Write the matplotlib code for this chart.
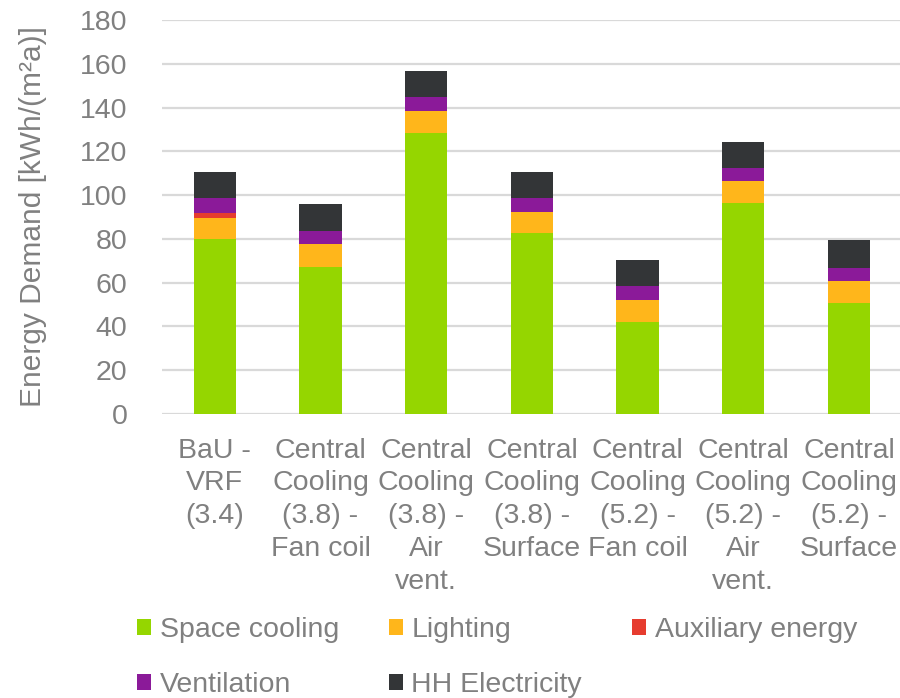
import numpy as np
import matplotlib.pyplot as plt

plt.rcParams['font.family'] = ['Liberation Sans', 'DejaVu Sans']

# yearly energy demand per variant, kWh/(m2a)
variants = ['BaU -\nVRF\n(3.4)',
            'Central\nCooling\n(3.8) -\nFan coil',
            'Central\nCooling\n(3.8) -\nAir\nvent.',
            'Central\nCooling\n(3.8) -\nSurface',
            'Central\nCooling\n(5.2) -\nFan coil',
            'Central\nCooling\n(5.2) -\nAir\nvent.',
            'Central\nCooling\n(5.2) -\nSurface']
space_cooling = [80.0, 67.0, 128.3, 82.5, 42.0, 96.5, 50.6]
lighting = [9.5, 10.5, 10.0, 10.0, 10.0, 10.0, 10.0]
auxiliary = [2.5, 0.0, 0.0, 0.0, 0.0, 0.0, 0.0]
ventilation = [6.5, 6.0, 6.5, 6.0, 6.5, 6.0, 6.2]
hh_electricity = [12.0, 12.3, 12.0, 12.0, 12.0, 12.0, 12.5]

series = [('Space cooling', space_cooling, '#95d600'),
          ('Lighting', lighting, '#ffb61b'),
          ('Auxiliary energy', auxiliary, '#e63c2f'),
          ('Ventilation', ventilation, '#8b1a99'),
          ('HH Electricity', hh_electricity, '#333537')]

grey = '#808080'

fig = plt.figure(figsize=(9, 6.98), dpi=100)
ax = fig.add_axes([0.18, 0.407, 0.822, 0.564])

x = np.arange(len(variants))
bottom = np.zeros(len(variants))
handles = {}
for name, vals, col in series:
    vals = np.array(vals)
    bars = ax.bar(x, vals, 0.4, bottom=bottom, color=col, zorder=3)
    handles[name] = bars
    bottom += vals

ax.set_ylim(0, 180)
ax.set_xlim(-0.5, len(variants) - 0.5)
ax.set_yticks(np.arange(0, 181, 20))
ax.yaxis.grid(True, color='#d9d9d9', linewidth=1.6, zorder=0)
ax.set_axisbelow(True)
for s in ax.spines.values():
    s.set_visible(False)
ax.tick_params(length=0, labelsize=20.5, labelcolor=grey)
ax.tick_params(axis='y', pad=25)
ax.tick_params(axis='x', pad=17)
ax.set_xticks(x)
ax.set_xticklabels(variants, linespacing=1.34, va='top')

fig.text(0.037, 0.69, 'Energy Demand [kWh/(m²a)]', rotation=90,
         ha='center', va='center', fontsize=21.5, color=grey)

# Excel-style legend: fill rows left to right, so reorder for column-major layout
order = ['Space cooling', 'Ventilation', 'Lighting', 'HH Electricity', 'Auxiliary energy']
leg = fig.legend([handles[n] for n in order], order, ncol=3,
                 loc='center left', bbox_to_anchor=(0.152, 0.058),
                 frameon=False, fontsize=20.5, handlelength=0.5, handleheight=0.5,
                 handletextpad=0.3, columnspacing=1.75, labelspacing=1.0,
                 borderpad=0, borderaxespad=0)
for t in leg.get_texts():
    t.set_color(grey)

fig.savefig('out.png', dpi=100)
